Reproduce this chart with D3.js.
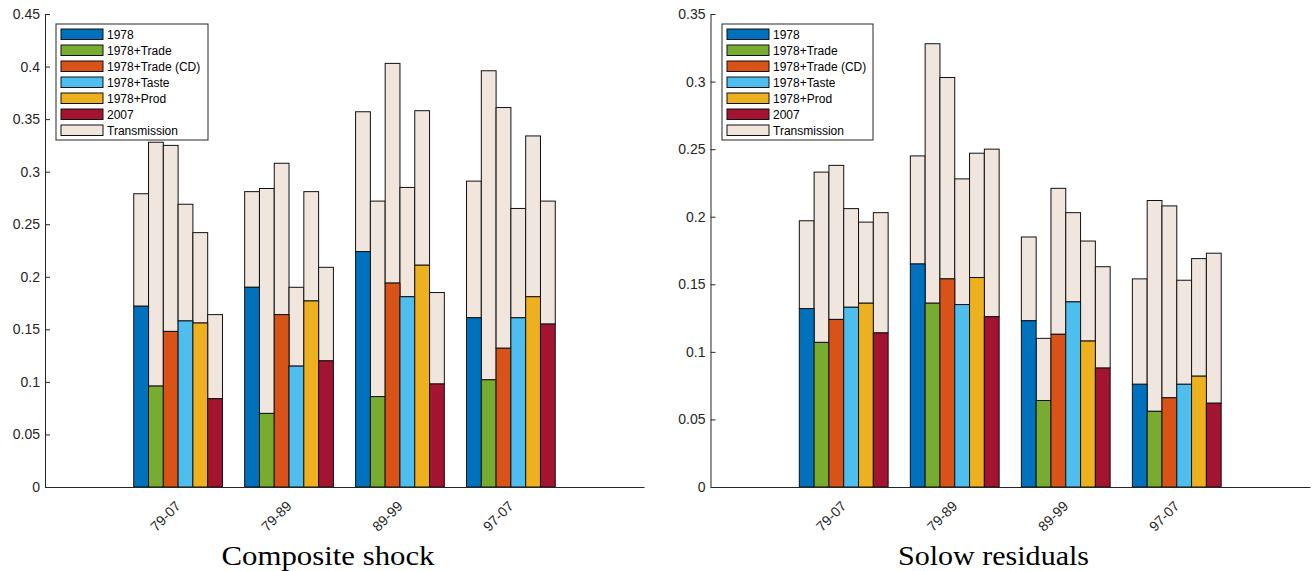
<!DOCTYPE html>
<html>
<head>
<meta charset="utf-8">
<script src="https://cdn.jsdelivr.net/npm/d3@7"></script>
<style>
  body { margin: 0; background: #fff; }
  svg { display: block; }
  .tick text { font-family: "Liberation Sans", Arial, sans-serif; font-size: 14px; fill: #262626; }
  .legend text { font-family: "Liberation Sans", Arial, sans-serif; font-size: 12px; fill: #000; }
  .title { font-family: "Liberation Serif", "DejaVu Serif", serif; font-size: 28px; fill: #000; }
</style>
</head>
<body>
<script>
// categories and series
var periods = ["79-07", "79-89", "89-99", "97-07"];
var seriesNames = ["1978", "1978+Trade", "1978+Trade (CD)", "1978+Taste", "1978+Prod", "2007"];
var colors = ["#0072BD", "#77AC30", "#D95319", "#4DBEEE", "#EDB120", "#A2142F"];
var transColor = "#F0E6DE";

// Composite shock: base value and total (base + transmission), per period, per series
var compBase = [
  [0.172, 0.096, 0.148, 0.158, 0.156, 0.084],
  [0.190, 0.070, 0.164, 0.115, 0.177, 0.120],
  [0.224, 0.086, 0.194, 0.181, 0.211, 0.098],
  [0.161, 0.102, 0.132, 0.161, 0.181, 0.155]
];
var compTotal = [
  [0.279, 0.328, 0.325, 0.269, 0.242, 0.164],
  [0.281, 0.284, 0.308, 0.190, 0.281, 0.209],
  [0.357, 0.272, 0.403, 0.285, 0.358, 0.185],
  [0.291, 0.396, 0.361, 0.265, 0.334, 0.272]
];

// Solow residuals
var solowBase = [
  [0.132, 0.107, 0.124, 0.133, 0.136, 0.114],
  [0.165, 0.136, 0.154, 0.135, 0.155, 0.126],
  [0.123, 0.064, 0.113, 0.137, 0.108, 0.088],
  [0.076, 0.056, 0.066, 0.076, 0.082, 0.062]
];
var solowTotal = [
  [0.197, 0.233, 0.238, 0.206, 0.196, 0.203],
  [0.245, 0.328, 0.303, 0.228, 0.247, 0.250],
  [0.185, 0.110, 0.221, 0.203, 0.182, 0.163],
  [0.154, 0.212, 0.208, 0.153, 0.169, 0.173]
];

var compTicks = [0, 0.05, 0.1, 0.15, 0.2, 0.25, 0.3, 0.35, 0.4, 0.45];
var solowTicks = [0, 0.05, 0.1, 0.15, 0.2, 0.25, 0.3, 0.35];

var svg = d3.select("body").append("svg")
    .attr("width", 1314)
    .attr("height", 571);

function drawPanel(opt) {
    var x = d3.scaleLinear().domain([-0.2, 5.2]).range([opt.left, opt.right]);
    var y = d3.scaleLinear().domain([0, opt.ymax]).range([487, 14]);
    var g = svg.append("g");
    var bw = 0.8 / seriesNames.length;

    // flatten into rows for the bars
    var rows = [];
    periods.forEach(function(p, i) {
        seriesNames.forEach(function(s, j) {
            rows.push({ gi: i, si: j, base: opt.base[i][j], total: opt.total[i][j] });
        });
    });

    function barX(d) { return x(d.gi + 1 - 0.4 + d.si * bw); }
    var barW = x(bw) - x(0);

    g.selectAll(".trans").data(rows).enter().append("rect")
        .attr("x", barX)
        .attr("width", barW)
        .attr("y", function(d) { return y(d.total); })
        .attr("height", function(d) { return y(d.base) - y(d.total); })
        .attr("fill", transColor)
        .attr("stroke", "#111")
        .attr("stroke-width", 1);

    g.selectAll(".base").data(rows).enter().append("rect")
        .attr("x", barX)
        .attr("width", barW)
        .attr("y", function(d) { return y(d.base); })
        .attr("height", function(d) { return y(0) - y(d.base); })
        .attr("fill", function(d) { return colors[d.si]; })
        .attr("stroke", "#111")
        .attr("stroke-width", 1);

    // y axis, ticks pointing inward like matlab
    var yAxis = g.append("g")
        .attr("transform", "translate(" + opt.left + ",0)")
        .call(d3.axisLeft(y).tickValues(opt.ticks)
            .tickFormat(function(d) { return d3.format("")(+d.toFixed(2)); })
            .tickSizeInner(-5).tickSizeOuter(0).tickPadding(5));
    yAxis.select(".domain").attr("stroke", "#262626");
    yAxis.selectAll(".tick line").attr("stroke", "#262626");

    // x axis
    var xAxis = g.append("g")
        .attr("transform", "translate(0,487)")
        .call(d3.axisBottom(x).tickValues([1, 2, 3, 4])
            .tickFormat(function(d) { return periods[d - 1]; })
            .tickSizeInner(0).tickSizeOuter(0).tickPadding(0));
    xAxis.select(".domain").attr("stroke", "#262626");
    xAxis.selectAll(".tick text")
        .attr("font-size", "13.5px")
        .attr("text-anchor", "end")
        .attr("dy", null)
        .attr("y", 0)
        .attr("transform", "translate(3,20) rotate(-45)");

    // legend
    var lg = g.append("g").attr("class", "legend")
        .attr("transform", "translate(" + opt.legX + ",24)");
    lg.append("rect")
        .attr("width", opt.legW).attr("height", 116)
        .attr("fill", "#fff").attr("stroke", "#262626").attr("stroke-width", 1);
    var items = seriesNames.concat(["Transmission"]);
    var itemColors = colors.concat([transColor]);
    var it = lg.selectAll(".item").data(items).enter().append("g")
        .attr("transform", function(d, i) { return "translate(5," + (5 + i * 16) + ")"; });
    it.append("rect")
        .attr("width", 42).attr("height", 10.5)
        .attr("fill", function(d, i) { return itemColors[i]; })
        .attr("stroke", "#111").attr("stroke-width", 1);
    it.append("text")
        .attr("x", 46).attr("y", 9.5)
        .text(function(d) { return d; });

    svg.append("text").attr("class", "title")
        .attr("x", opt.titleX).attr("y", 565)
        .attr("text-anchor", "middle")
        .attr("textLength", opt.titleW).attr("lengthAdjust", "spacingAndGlyphs")
        .text(opt.title);
}

drawPanel({ left: 45, right: 644, ymax: 0.45, ticks: compTicks, base: compBase, total: compTotal,
            legX: 56, legW: 152, title: "Composite shock", titleX: 328, titleW: 213 });
drawPanel({ left: 710.5, right: 1310, ymax: 0.35, ticks: solowTicks, base: solowBase, total: solowTotal,
            legX: 722, legW: 151, title: "Solow residuals", titleX: 993.5, titleW: 191 });
</script>
</body>
</html>
